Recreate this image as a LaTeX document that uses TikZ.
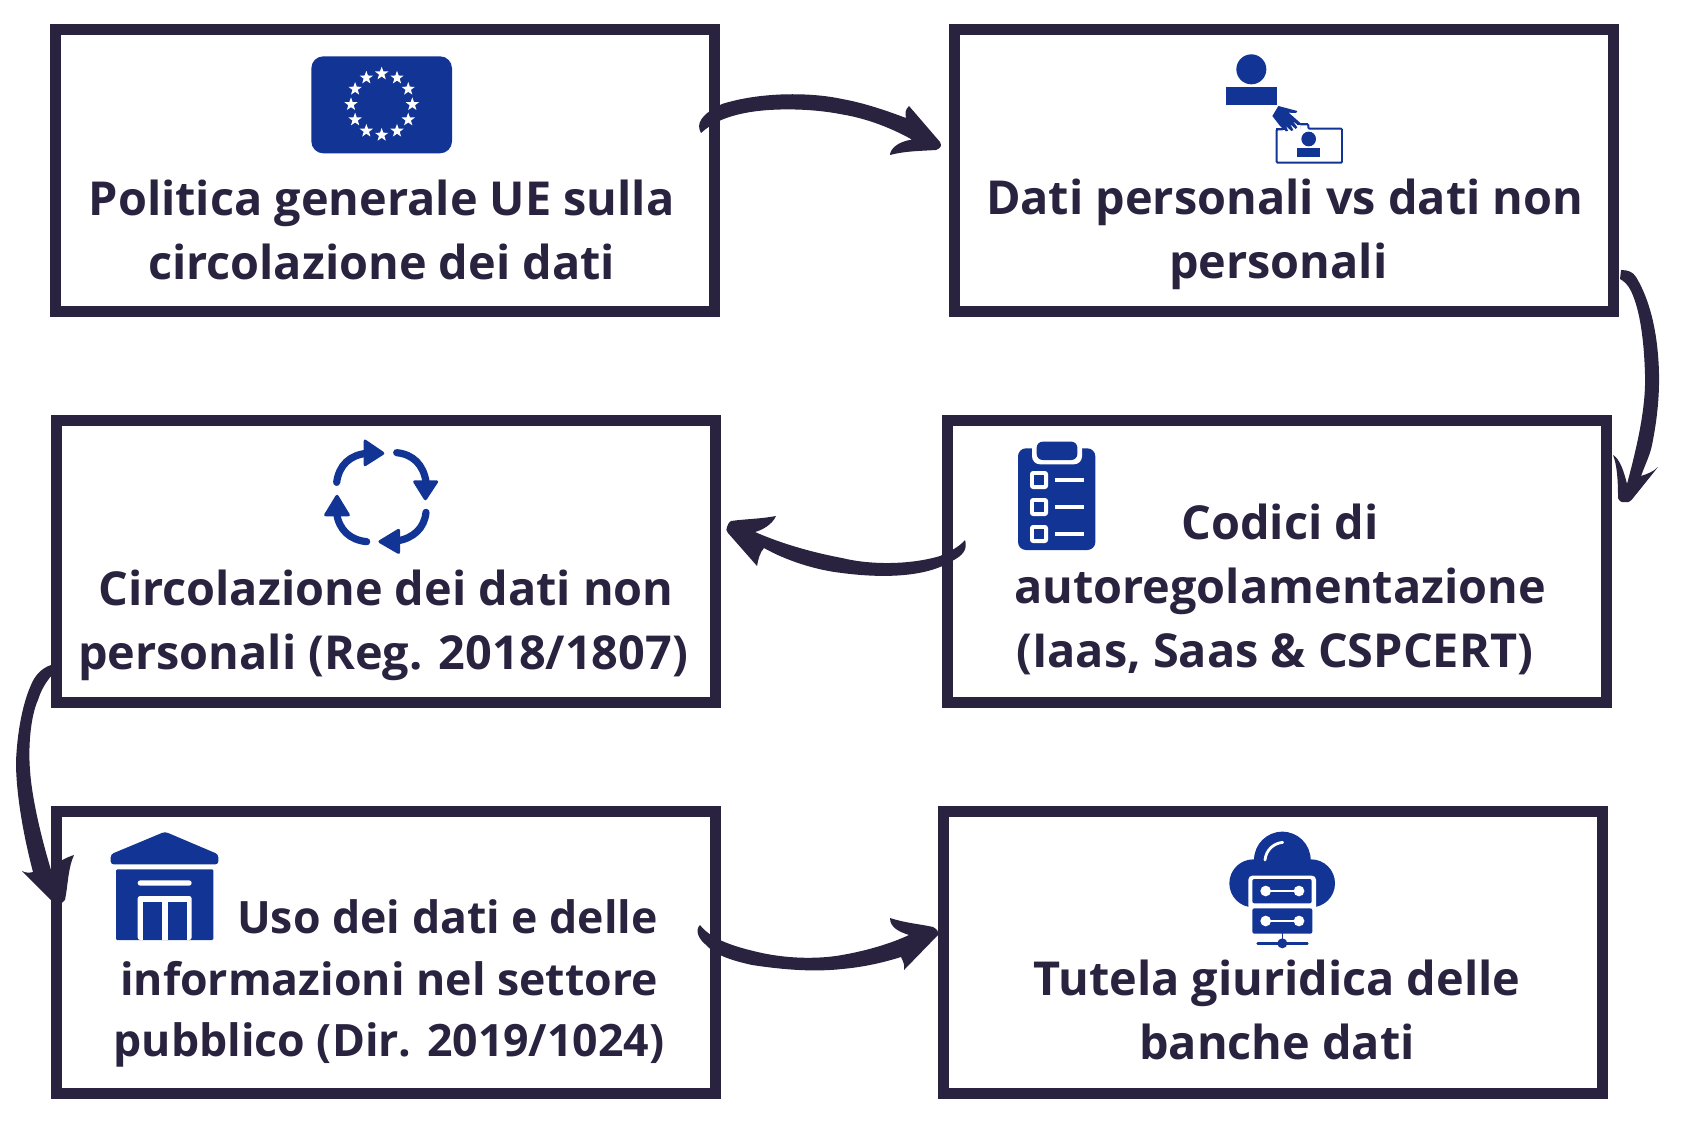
\documentclass[tikz,border=0pt]{standalone}
\usepackage{fontspec}
\setmainfont{Open Sans}[BoldFont={Open Sans Bold}]
\usetikzlibrary{calc}
\definecolor{ink}{HTML}{29233F}
\definecolor{eublue}{HTML}{123595}
\tikzset{
  box/.style={draw=ink,line width=5.5pt,fill=white,inner sep=0pt,minimum width=329.5pt,minimum height=141pt},
  lbl/.style={text=ink,align=center,inner sep=0pt,font=\bfseries\fontsize{23.4}{32}\selectfont},
  conn/.style={fill=ink,draw=none},
  crop/.style={x=.16667pt,y=-.16667pt}
}
\begin{document}
\begin{tikzpicture}[x=.5pt,y=-.5pt]
\useasboundingbox (0,0) rectangle (1684,1128);
\fill[white] (0,0) rectangle (1684,1128);
% boxes
\node[box] (b1) at (385.3,170.2) {};
\node[box] (b2) at (1284.3,170.2) {};
\node[box] (b3) at (1276.8,561) {};
\node[box] (b4) at (385.5,561) {};
\node[box] (b5) at (385.5,952) {};
\node[box] (b6) at (1272.5,952) {};
% labels
\node[lbl] (t1) at (381.6,229.5) {Politica generale UE sulla\\circolazione dei dati};
\node[lbl] (t2) at (1284.7,234.5) {Dati personali vs dati non\\personali\hspace*{6.4pt}};
\node[lbl] (t3) at (1280,589.5) {Codici di\\autoregolamentazione\\(Iaas, Saas \& CSPCERT)\hspace*{5.4pt}};
\node[lbl] (t4) at (386,625) {Circolazione dei dati non\\personali (Reg. 2018/1807)\hspace*{3pt}};
\node[lbl,font=\bfseries\fontsize{22.3}{30.7}\selectfont] (t5) at (389,983.5) {\hspace*{58.5pt}Uso dei dati e delle\\informazioni nel settore\\pubblico (Dir. 2019/1024)};
\node[lbl] (t6) at (1277,1009.5) {Tutela giuridica delle\\banche dati};
% connectors
\coordinate (a1s) at (701,133); \coordinate (a1e) at (940,142);
\coordinate (a2s) at (1621,270); \coordinate (a2e) at (1625,502);
\coordinate (a3s) at (965,540); \coordinate (a3e) at (727,527);
\coordinate (a4s) at (51,665); \coordinate (a4e) at (58,903);
\coordinate (a5s) at (700,925); \coordinate (a5e) at (938,935);
\fill[conn] (a1s) .. controls (696,124) and (700,115) .. (722,104) .. controls (760,92) and (810,92) .. (842,99) .. controls (865,103) and (890,112) .. (906,118) .. controls (905,113) and (905,110) .. (909,106) -- (a1e) .. controls (942,146) and (941,148) .. (936,150) .. controls (920,151) and (905,151) .. (890,155) .. controls (890,150) and (896,142) .. (912,139.6) .. controls (895,130) and (870,119) .. (842,114.4) .. controls (810,108) and (770,108) .. (745,113) .. controls (725,117) and (712,123) .. cycle;
\fill[conn] (a2s) .. controls (1628,270) and (1633,272) .. (1636,277) .. controls (1650,300) and (1656,330) .. (1658,355) .. controls (1661,390) and (1657,420) .. (1652,445) .. controls (1650,455) and (1645,465) .. (1641,476) .. controls (1647,474) and (1653,472) .. (1658,467) -- (1631.5,500) .. controls (1630,502) and (1627,503) .. (a2e) .. controls (1622,503) and (1619,501) .. (1618,498) .. controls (1618,480) and (1617,465) .. (1613,455) .. controls (1620,459) and (1624,472) .. (1627,484) .. controls (1636,450) and (1646,410) .. (1645,375) .. controls (1644,340) and (1640,310) .. (1631,291) .. controls (1628,285) and (1624,281) .. (1620,279) -- cycle;
\fill[conn] (a3s) .. controls (958,548) and (950,551) .. (940,556) .. controls (910,565) and (870,565) .. (842,558) .. controls (810,552) and (780,543) .. (755,532) .. controls (762,530) and (772,525) .. (776,516) .. controls (760,519) and (745,519) .. (731,521) .. controls (729,522) and (728,524) .. (a3e) .. controls (726,529) and (726,531) .. (728,533) -- (757,566) .. controls (758,560) and (760,552) .. (764,548) .. controls (785,560) and (815,570) .. (842,573) .. controls (880,578) and (925,578) .. (952,561) .. controls (962,556) and (968,550) .. cycle;
\fill[conn] (a4s) .. controls (42,668) and (35,675) .. (31,685) .. controls (22,705) and (17,735) .. (16,762) .. controls (16,790) and (22,830) .. (33,872) .. controls (29,873) and (26,873) .. (22,871) -- (52,901) .. controls (54,903) and (56,904) .. (a4e) .. controls (61,904) and (64,902) .. (65,900) .. controls (68,885) and (68,868) .. (74,855) .. controls (65,858) and (57,862) .. (51,870) .. controls (42,840) and (32,800) .. (30,770) .. controls (28,745) and (31,715) .. (38,700) .. controls (41,690) and (46,682) .. (52,675) -- cycle;
\fill[conn] (a5s) .. controls (710,938) and (730,946) .. (762,953) .. controls (790,959) and (820,959) .. (842,955) .. controls (865,951) and (890,944) .. (909,935) .. controls (900,932) and (890,928) .. (890,918) .. controls (905,923) and (920,924) .. (933,927) .. controls (937,929) and (939,932) .. (a5e) -- (904,970) .. controls (905,965) and (903,961) .. (901,957) .. controls (885,962) and (865,967) .. (842,969) .. controls (815,972) and (785,970) .. (752,965) .. controls (730,960) and (715,955) .. (705,944) .. controls (698,938) and (695,930) .. cycle;
% EU flag
\begin{scope}[shift={(300,45)},crop]
  \fill[eublue,rounded corners=6pt] (34,34) rectangle (456,325);
  \foreach \a in {0,30,...,330}{
    \begin{scope}[shift={($(245,178)+(\a:92)$)}]
      \fill[white] (-90:21) -- (-54:8.5) -- (-18:21) -- (18:8.5) -- (54:21) -- (90:8.5) -- (126:21) -- (162:8.5) -- (198:21) -- (234:8.5) -- cycle;
    \end{scope}
  }
\end{scope}
% person + card
\begin{scope}[shift={(1210,40)},crop,eublue]
  \fill (124,88) circle (45);
  \fill (48,140) rectangle (202,196);
  \draw[line width=.95pt,rounded corners=.5pt] (200,368) -- (200,268) -- (268,268) -- (268,253) -- (295,253) -- (295,266) -- (396,266) -- (396,368) -- cycle;
  \fill[white] (190,250) -- (272,250) -- (272,275) -- (230,280) -- cycle;
  \draw[line width=.95pt] (200,272) -- (200,268) -- (225,268);
  \draw[line width=.95pt] (262,253) -- (295,253);
  \fill (205,198) -- (262,213) -- (258,219) -- (236,218) -- (270,248) -- (265,256) -- (248,243) -- (262,262) -- (257,267) -- (240,252) -- (250,270) -- (244,273) -- (228,258) -- (234,272) -- (228,274) -- (210,258) -- (187,228) -- cycle;
  \fill (296,297) circle (22);
  \fill (260,325) rectangle (330,350);
\end{scope}
% cycle
\begin{scope}[shift={(315,435)},crop,eublue]
  \draw[line width=3.6pt,line cap=round] (65,142) .. controls (72,90) and (105,60) .. (155,55);
  \draw[line width=3.6pt,line cap=round] (245,53) .. controls (295,58) and (325,90) .. (333,140);
  \draw[line width=3.6pt,line cap=round] (333,232) .. controls (328,280) and (295,310) .. (245,318);
  \draw[line width=3.6pt,line cap=round] (155,320) .. controls (105,315) and (72,285) .. (65,235);
  \fill[rounded corners=1.4pt] (146,10) -- (212,55) -- (146,97) -- cycle;
  \fill[rounded corners=1.4pt] (291,136) -- (373,136) -- (331,200) -- cycle;
  \fill[rounded corners=1.4pt] (255,278) -- (186,320) -- (255,360) -- cycle;
  \fill[rounded corners=1.4pt] (24,244) -- (108,244) -- (66,175) -- cycle;
\end{scope}
% clipboard
\begin{scope}[shift={(1010,435)},crop]
  \fill[eublue,rounded corners=4pt] (24,40) rectangle (256,345);
  \fill[white,rounded corners=4pt] (66,10) rectangle (216,88);
  \fill[eublue,rounded corners=3pt] (80,20) rectangle (202,75);
  \foreach \yy in {0,81,162}{
    \fill[white,rounded corners=1.5pt] (60,108+\yy) rectangle (114,162+\yy);
    \fill[eublue] (73,121+\yy) rectangle (101,149+\yy);
    \fill[white] (134,128+\yy) rectangle (222,142+\yy);
  }
\end{scope}
% building
\begin{scope}[shift={(100,825)},crop,eublue]
  \fill[rounded corners=1.5pt] (195,20) -- (355,88) -- (355,118) -- (32,118) -- (32,88) -- cycle;
  \fill[rounded corners=.6pt] (48,133) rectangle (340,345);
  \fill[white,rounded corners=1.3pt] (113,166) rectangle (275,182);
  \fill[white,rounded corners=1.3pt] (113,213) rectangle (275,345);
  \fill (130,231) rectangle (187,345);
  \fill (203,231) rectangle (260,345);
\end{scope}
% cloud
\begin{scope}[shift={(1210,825)},crop,eublue]
  \fill (217,105) circle (85);
  \fill (130,175) circle (72);
  \fill (303,175) circle (72);
  \fill (130,105) rectangle (305,200);
  \fill[white,rounded corners=2pt] (115,152) rectangle (318,260);
  \fill[white] (60,248) rectangle (375,262);
  \fill[rounded corners=1pt] (127,162) rectangle (305,235);
  \fill[rounded corners=1pt] (127,250) rectangle (307,326);
  \foreach \yy in {198,288}{
    \draw[white,line width=1.2pt] (167,\yy) -- (267,\yy);
    \fill[white] (167,\yy) circle (16);
    \fill[white] (267,\yy) circle (16);
  }
  \draw[white,line width=1.4pt,line cap=round] (165,105) .. controls (168,75) and (190,55) .. (218,52);
  \draw[line width=.8pt] (217,325) -- (217,355);
  \draw[line width=1.3pt,line cap=round] (143,356) -- (292,356);
  \fill (217,355) circle (15);
\end{scope}
\end{tikzpicture}
\end{document}
